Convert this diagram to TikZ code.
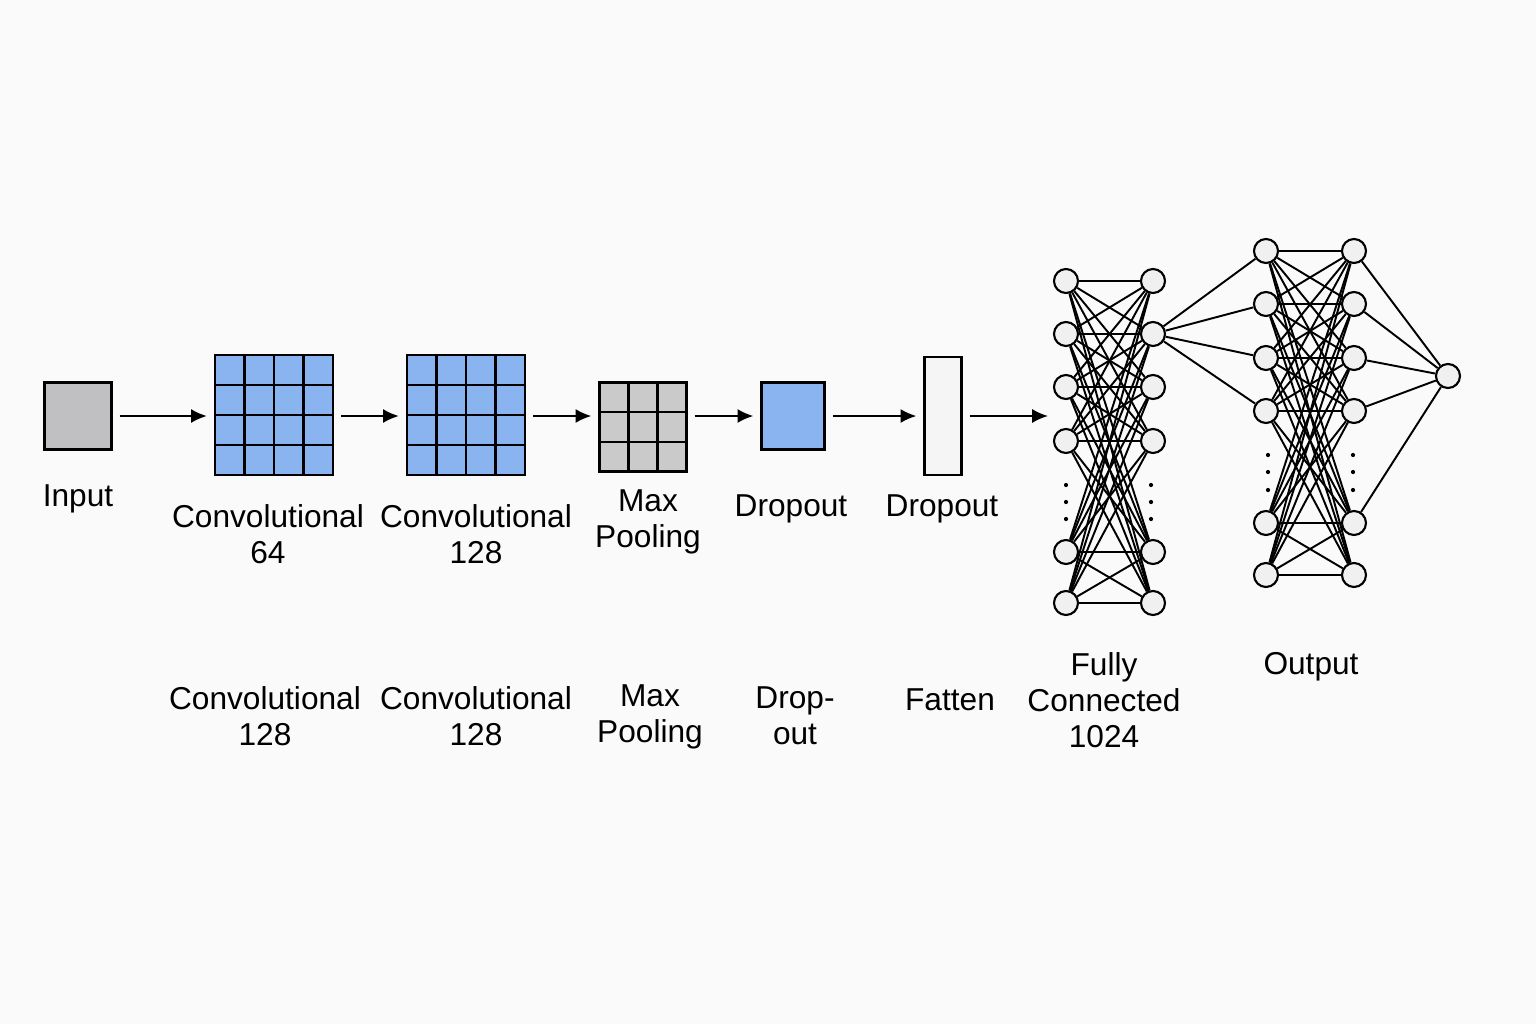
\documentclass[tikz,border=0pt]{standalone}
\usepackage{fontspec}
\setmainfont{Liberation Sans}
\usetikzlibrary{arrows.meta,calc}

\definecolor{convblue}{RGB}{138,180,240}
\definecolor{inputgray}{RGB}{192,192,194}
\definecolor{poolgray}{RGB}{202,202,202}
\definecolor{bggray}{RGB}{250,250,250}

\tikzset{
  layerbox/.style={draw, line width=0.75pt, inner sep=0pt, outer sep=0pt},
  neuron/.style={circle, draw, line width=0.6pt, fill=gray!12, minimum size=0.24cm, inner sep=0pt},
  flow/.style={-{Latex[length=4.5pt,width=4pt]}, line width=0.6pt, shorten <=2.3pt, shorten >=2.3pt},
  wire/.style={line width=0.55pt},
  caption/.style={font=\fontsize{9}{10.3}\selectfont, align=center}
}

% cells of a layer box: node name, number of cells per side
\newcommand{\cellgrid}[2]{%
  \foreach \k [evaluate=\k as \f using \k/#2] in {1,...,#2}{
    \draw[line width=0.75pt] ($(#1.north west)!\f!(#1.north east)$) -- ($(#1.south west)!\f!(#1.south east)$);
    \draw[line width=0.75pt] ($(#1.north west)!\f!(#1.south west)$) -- ($(#1.north east)!\f!(#1.south east)$);
  }}

\begin{document}
\begin{tikzpicture}[x=0.01cm,y=-0.01cm]

\fill[bggray] (0,0) rectangle (1536,1024);
\useasboundingbox (0,0) rectangle (1536,1024);

% The layer boxes
\node[layerbox, fill=inputgray, minimum width=0.67cm, minimum height=0.67cm] (in) at (78,416) {};
\node[layerbox, fill=convblue, minimum width=1.18cm, minimum height=1.20cm] (c1) at (274,415) {};
\node[layerbox, fill=convblue, minimum width=1.18cm, minimum height=1.20cm] (c2) at (466,415) {};
\node[layerbox, fill=poolgray, minimum width=0.87cm, minimum height=0.89cm] (pool) at (643,427) {};
\node[layerbox, fill=convblue, minimum width=0.63cm, minimum height=0.67cm] (drop) at (793,416) {};
\node[layerbox, fill=gray!8, minimum width=0.37cm, minimum height=1.18cm] (flat) at (943,416) {};
\coordinate (fcin) at (1048,416);

\cellgrid{c1}{4}
\cellgrid{c2}{4}
\cellgrid{pool}{3}

% Flow between the layers
\draw[flow] (in) -- (c1.west |- in);
\draw[flow] (c1.east |- in) -- (c2.west |- in);
\draw[flow] (c2.east |- in) -- (pool.west |- in);
\draw[flow] (pool.east |- in) -- (drop);
\draw[flow] (drop) -- (flat);
\draw[flow, shorten >=0pt] (flat) -- (fcin);

% Fully connected part
\foreach \y [count=\i] in {281,334,387,441,552,603}{
  \node[neuron] (a\i) at (1066,\y) {};
  \node[neuron] (b\i) at (1153,\y) {};
}
\foreach \y [count=\i] in {251,304,358,411,523,575}{
  \node[neuron] (p\i) at (1266,\y) {};
  \node[neuron] (q\i) at (1354,\y) {};
}
\node[neuron] (out) at (1448,376) {};

\foreach \i in {1,...,6}
  \foreach \j in {1,...,6}{
    \draw[wire] (a\i) -- (b\j);
    \draw[wire] (p\i) -- (q\j);
  }
\foreach \j in {1,...,4}
  \draw[wire] (b2) -- (p\j);
\foreach \j in {1,...,5}
  \draw[wire] (q\j) -- (out);

% Dots for the hidden units
\foreach \y in {485,502,519}{
  \fill (1066,\y) circle (0.6pt);
  \fill (1151,\y) circle (0.6pt);
}
\foreach \y in {455,472,490}{
  \fill (1268,\y) circle (0.6pt);
  \fill (1353,\y) circle (0.6pt);
}

% Labels
\node[caption] (lin) at (78,499) {Input};
\node[caption] (lc1) at (268,534) {Convolutional\\64};
\node[caption] (lc2) at (476,534) {Convolutional\\128};
\node[caption] (lpool) at (648,522) {Max\\Pooling};
\node[caption] (ldrop) at (791,509) {Dropout};
\node[caption] (lflat) at (942,509) {Dropout};
\node[caption] (lfc) at (1104,700) {Fully\\Connected\\1024};
\node[caption] (lout) at (1311,667) {Output};

\node[caption] (ld1) at (265,716) {Convolutional\\128};
\node[caption] (ld2) at (476,716) {Convolutional\\128};
\node[caption] (ld3) at (650,717) {Max\\Pooling};
\node[caption] (ld4) at (795,716) {Drop-\\out};
\node[caption] (ld5) at (950,700) {Fatten};

\end{tikzpicture}
\end{document}
